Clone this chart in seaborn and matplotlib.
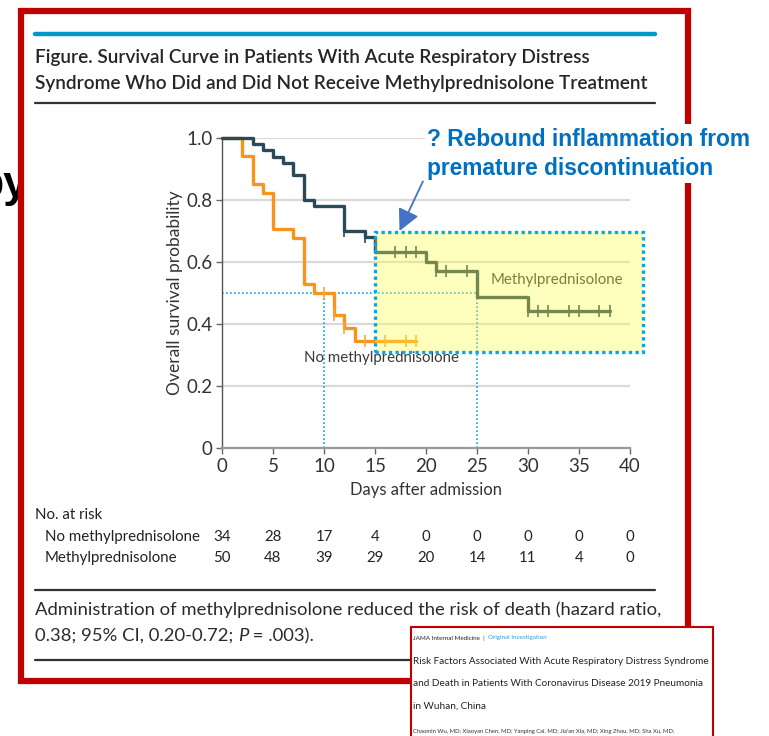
import numpy as np
import pandas as pd
import matplotlib
matplotlib.use('Agg')
import matplotlib.pyplot as plt
import seaborn as sns
from matplotlib.patches import Rectangle
from matplotlib.lines import Line2D

# Kaplan-Meier curves
mp_time = [0, 3, 4, 5, 6, 7, 8, 9, 12, 14, 15, 20, 21, 25, 30, 38]
mp_surv = [1.0, 0.98, 0.96, 0.94, 0.92, 0.88, 0.80, 0.78, 0.70, 0.68,
           0.633, 0.60, 0.57, 0.488, 0.443, 0.443]
mp_cens = [12, 14, 17, 18, 19, 21, 22, 24, 30, 31, 32, 34, 35, 37, 38]

no_time = [0, 2, 3, 4, 5, 7, 8, 9, 11, 12, 13, 19]
no_surv = [1.0, 0.941, 0.853, 0.824, 0.706, 0.676, 0.529, 0.5, 0.43,
           0.387, 0.345, 0.345]
no_cens = [10, 11, 12, 14, 16, 18, 19]

# number at risk
risk_days = [0, 5, 10, 15, 20, 25, 30, 35, 40]
risk_none = [34, 28, 17, 4, 0, 0, 0, 0, 0]
risk_mp = [50, 48, 39, 29, 20, 14, 11, 4, 0]

y_ticks = [0, 0.2, 0.4, 0.6, 0.8, 1.0]
y_labels = ['0', '0.2', '0.4', '0.6', '0.8', '1.0']

sns.set_theme(style='white')
plt.rcParams['font.family'] = ['Lato', 'DejaVu Sans']

W, H = 769, 736


def fx(x):
    return x / W


def fy(y):
    return 1 - y / H


fig = plt.figure(figsize=(W / 100, H / 100), dpi=100)
fig.patch.set_facecolor('white')
renderer = fig.canvas.get_renderer()


def fit(t, width_px, vertical=False):
    bb = t.get_window_extent(renderer)
    w = bb.height if vertical else bb.width
    t.set_fontsize(t.get_fontsize() * width_px / w)
    return t.get_fontsize()


def right_edge(t):
    return t.get_window_extent(renderer).x1 / fig.bbox.width


# slide title peeking out behind the panel
fig.text(fx(28), fy(185), 'py', fontsize=32, fontweight='bold',
         family='Liberation Sans', ha='right', va='center', color='black',
         zorder=-10)

# white panel with red frame
fig.patches.append(Rectangle((fx(21), fy(681)), (688 - 21) / W, (681 - 11) / H,
                             transform=fig.transFigure, fc='white',
                             ec='#c00000', lw=4.5, zorder=-5))

fig.lines.append(Line2D([fx(35), fx(655)], [fy(34), fy(34)], color='#0098c8',
                        lw=3.2, transform=fig.transFigure, zorder=-4))
t1 = fig.text(fx(35), fy(57), 'Figure. Survival Curve in Patients With Acute Respiratory Distress',
              fontsize=14, fontweight='semibold', color='#262626', va='center', zorder=-4)
t2 = fig.text(fx(35), fy(83), 'Syndrome Who Did and Did Not Receive Methylprednisolone Treatment',
              fontsize=14, fontweight='semibold', color='#262626', va='center', zorder=-4)
fs = fit(t2, 615)
t1.set_fontsize(fs)
fig.lines.append(Line2D([fx(35), fx(655)], [fy(103), fy(103)], color='#333333',
                        lw=1.6, transform=fig.transFigure, zorder=-4))

# survival plot
ax = fig.add_axes([fx(222), fy(448), (630 - 222) / W, (448 - 138) / H])
ax.set_facecolor('none')

df = pd.concat([
    pd.DataFrame({'day': no_time, 'surv': no_surv, 'group': 'No methylprednisolone'}),
    pd.DataFrame({'day': mp_time, 'surv': mp_surv, 'group': 'Methylprednisolone'}),
])
pal = {'No methylprednisolone': '#f7941d', 'Methylprednisolone': '#2b4a57'}
sns.lineplot(data=df, x='day', y='surv', hue='group', palette=pal,
             drawstyle='steps-post', estimator=None, sort=False, legend=False,
             lw=2.4, ax=ax, clip_on=False, zorder=3)


def at(times, surv, t):
    i = np.searchsorted(times, t, side='right') - 1
    return surv[i]


ax.plot(no_cens, [at(no_time, no_surv, t) for t in no_cens], ls='none',
        marker='|', ms=8, mew=1.2, color='#f7a540', zorder=3, clip_on=False)
ax.plot(mp_cens, [at(mp_time, mp_surv, t) for t in mp_cens], ls='none',
        marker='|', ms=8, mew=1.2, color='#2b4a57', zorder=3, clip_on=False)

ax.set_xlim(0, 40)
ax.set_ylim(0, 1.0)
ax.set_xticks(risk_days)
ax.set_xticklabels([str(d) for d in risk_days])
ax.set_yticks(y_ticks)
ax.set_yticklabels(y_labels)
ax.grid(axis='y', color='#d9d9d9', lw=1.6)
ax.set_axisbelow(True)
for s in ['top', 'right']:
    ax.spines[s].set_visible(False)
ax.spines['left'].set_color('#555555')
ax.spines['left'].set_linewidth(1.0)
ax.spines['bottom'].set_color('#9a9a9a')
ax.spines['bottom'].set_linewidth(1.6)
ax.tick_params(axis='both', which='both', direction='out', length=4, width=1,
               color='#666666', labelsize=13.5, labelcolor='#333333', pad=3,
               bottom=True, left=True)
ax.set_xlabel('')
ax.set_ylabel('')

# guide lines at median survival
blue = '#00a8ec'
ax.plot([0, 25], [0.5, 0.5], color=blue, lw=1.2, ls=(0, (1, 1.4)), zorder=2)
ax.plot([10, 10], [0, 0.5], color=blue, lw=1.2, ls=(0, (1, 1.4)), zorder=2)
ax.plot([25, 25], [0, 0.5], color=blue, lw=1.2, ls=(0, (1, 1.4)), zorder=2)

tm = ax.text(26.3, 0.543, 'Methylprednisolone', fontsize=12.5, color='#3a3a3a',
             va='center', zorder=2)
fit(tm, 133)
tn = ax.text(8.0, 0.29, 'No methylprednisolone', fontsize=12.5, color='#3a3a3a',
             va='center', zorder=2)
fit(tn, 155)

# highlighted region
ax.add_patch(Rectangle((15, 0.309), 26.3, 0.387, fc='#ffff40', ec='none',
                       alpha=0.34, zorder=4, clip_on=False))
ax.add_patch(Rectangle((15, 0.309), 26.3, 0.387, fc='none', ec=blue,
                       lw=2.4, ls=(0, (1, 1)), zorder=5, clip_on=False))

ax.annotate('', xy=(17.4, 0.70), xytext=(19.7, 0.86),
            arrowprops=dict(arrowstyle='-|>,head_length=1.1,head_width=0.55',
                            color='#4472c4', lw=1.3, shrinkA=0, shrinkB=0),
            annotation_clip=False, zorder=6)

fig.patches.append(Rectangle((fx(425), fy(183)), (756 - 425) / W, (183 - 124) / H,
                             transform=fig.transFigure, fc='white', ec='none',
                             zorder=2))
r1 = fig.text(fx(427), fy(139), '? Rebound inflammation from', fontsize=14.5,
              fontweight='bold', family='Liberation Sans', color='#0070c0',
              va='center', zorder=3)
fs = fit(r1, 323)
fig.text(fx(427), fy(168), 'premature discontinuation', fontsize=fs,
         fontweight='bold', family='Liberation Sans', color='#0070c0',
         va='center', zorder=3)

yl = fig.text(fx(175), fy(293), 'Overall survival probability', rotation=90,
              fontsize=13, color='#333333', ha='center', va='center')
fit(yl, 205, vertical=True)
xl = fig.text(fx(426), fy(490), 'Days after admission', fontsize=13,
              color='#333333', ha='center', va='center')
fit(xl, 152)

# number at risk table
fig.text(fx(35), fy(515), 'No. at risk', fontsize=12.5, color='#222222', va='center')
ta = fig.text(fx(45), fy(537), 'No methylprednisolone', fontsize=12.5,
              color='#222222', va='center')
fs = fit(ta, 155)
for t in fig.texts[-2:]:
    t.set_fontsize(fs)
fig.text(fx(45), fy(558), 'Methylprednisolone', fontsize=fs, color='#222222', va='center')
for d, a, b in zip(risk_days, risk_none, risk_mp):
    xf = ax.transData.transform((d, 0))[0] / fig.bbox.width
    fig.text(xf, fy(537), str(a), fontsize=fs, color='#222222', ha='center', va='center')
    fig.text(xf, fy(558), str(b), fontsize=fs, color='#222222', ha='center', va='center')

fig.lines.append(Line2D([fx(35), fx(655)], [fy(590), fy(590)], color='#333333',
                        lw=1.6, transform=fig.transFigure))
fig.lines.append(Line2D([fx(35), fx(655)], [fy(660), fy(660)], color='#333333',
                        lw=1.6, transform=fig.transFigure))

c1 = fig.text(fx(35), fy(610), 'Administration of methylprednisolone reduced the risk of death (hazard ratio,',
              fontsize=14, color='#2b2b2b', va='center')
cap = fit(c1, 627)
xpos = fx(35)
for piece, style in [('0.38; 95% CI, 0.20-0.72; ', 'normal'), ('P', 'italic'),
                     (' = .003).', 'normal')]:
    t = fig.text(xpos, fy(636), piece, fontsize=cap, color='#2b2b2b',
                 va='center', style=style)
    xpos = right_edge(t)

# inset of the article header
fig.patches.append(Rectangle((fx(411), fy(742)), (713 - 411) / W, (742 - 627) / H,
                             transform=fig.transFigure, fc='white',
                             ec='#c00000', lw=1.5, zorder=5))
j1 = fig.text(fx(413), fy(638), 'JAMA Internal Medicine  |  ', fontsize=6.3,
              color='#222222', va='center', zorder=6)
j2 = fig.text(right_edge(j1), fy(638), 'Original Investigation', fontsize=6.3,
              color='#2a9fd6', va='center', zorder=6)
k = 133 / ((j2.get_window_extent(renderer).x1 - j1.get_window_extent(renderer).x0))
j1.set_fontsize(6.3 * k)
j2.set_fontsize(6.3 * k)
j2.set_x(right_edge(j1))

h1 = fig.text(fx(413), fy(662), 'Risk Factors Associated With Acute Respiratory Distress Syndrome',
              fontsize=10, color='#222222', va='center', zorder=6)
fs = fit(h1, 297)
fig.text(fx(413), fy(684), 'and Death in Patients With Coronavirus Disease 2019 Pneumonia',
         fontsize=fs, color='#222222', va='center', zorder=6)
fig.text(fx(413), fy(706), 'in Wuhan, China', fontsize=fs, color='#222222',
         va='center', zorder=6)
au = fig.text(fx(413), fy(731), "Chaomin Wu, MD; Xiaoyan Chen, MD; Yanping Cai, MD; Jia'an Xia, MD; Xing Zhou, MD; Sha Xu, MD;",
              fontsize=4.6, color='#333333', va='center', zorder=6)
fit(au, 265)

fig.savefig('out.png', dpi=100, facecolor='white')
